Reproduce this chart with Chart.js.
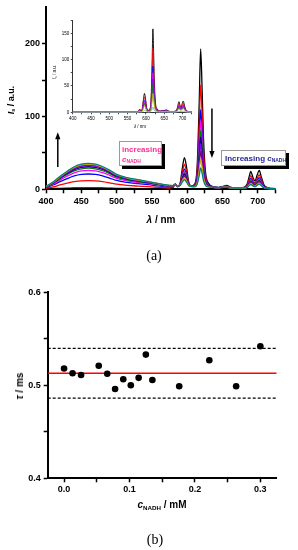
<!DOCTYPE html>
<html><head><meta charset="utf-8">
<script src="https://cdn.jsdelivr.net/npm/chart.js@4.4.0/dist/chart.umd.min.js"></script>
<style>
html,body{margin:0;padding:0;background:#fff;width:298px;height:550px;overflow:hidden;}
body{position:relative;font-family:"Liberation Sans",Arial,sans-serif;}
canvas{position:absolute;}
.t{position:absolute;white-space:nowrap;transform:translate(-50%,-50%);font-weight:bold;color:#000;line-height:1;}
.rot{transform:translate(-50%,-50%) rotate(-90deg);}
.serif{font-family:"Liberation Serif","Times New Roman",serif;font-weight:normal;}
sub{font-size:62%;vertical-align:-0.3em;line-height:0;}
.box{position:absolute;background:#fff;border:1px solid #999;box-shadow:3px 3px 0 #000;box-sizing:border-box;font-weight:bold;line-height:1;}
.box div{position:absolute;white-space:nowrap;}
</style>
</head><body>
<canvas id="cA" width="298" height="215" style="left:0;top:0"></canvas>
<canvas id="cI" width="160" height="125" style="left:40px;top:10px"></canvas>
<canvas id="cB" width="298" height="220" style="left:0;top:280px"></canvas>

<div class="t rot" style="left:11px;top:100px;font-size:9px"><i>I</i><sub>s</sub> / a.u.</div>
<div class="t" style="left:161px;top:220px;font-size:10px"><i>λ</i> / nm</div>
<div class="t serif" style="left:154px;top:256px;font-size:14px">(a)</div>
<div class="t rot" style="left:55px;top:72px;font-size:4.5px;font-weight:normal"><i>I</i><sub>s</sub> / a.u.</div>
<div class="t" style="left:140px;top:127px;font-size:4.5px;font-weight:normal"><i>λ</i> / nm</div>

<div class="box" style="left:119px;top:141px;width:43px;height:25px;">
  <div style="color:#ff2d96;font-size:8px;left:2px;top:4px">increasing</div>
  <div style="color:#ff2d96;font-size:8px;left:2px;top:14px"><i>c</i><sub>NADH</sub></div>
</div>
<div class="box" style="left:221px;top:150px;width:65px;height:16px;">
  <div style="color:#28289a;font-size:8px;left:3px;top:4px">Increasing <i>c</i><sub>NADH</sub></div>
</div>

<div class="t rot" style="left:20px;top:386px;font-size:10px"><i>τ</i> / ms</div>
<div class="t" style="left:162px;top:505px;font-size:10px"><i>c</i><sub>NADH</sub> / mM</div>
<div class="t serif" style="left:155px;top:540px;font-size:14px">(b)</div>

<script>
// ---------- (a) main spectra ----------
const wavelengths = [400,410,420,430,440,450,460,470,480,490,500,515,530,545,560,575,
  580,583,586,590,593,596,599,602,606,610,614,617,619,621,623,626,630,637,645,652,656,661,670,680,685,688,690,693,696,699,702,705,709,715,725];
const S1 = [1,1.2,1.4,1.6,1.8,1.9,2,1.9,1.8,1.6,1.4,1.2,1,0.9,0.8,0.8,
  2.5,7.5,3.5,8.5,28.5,43.5,30.5,10.5,4.5,6.5,30.5,120,193,140,70.5,22.5,8.5,3.5,2.5,4.5,5.5,3,1.5,2.5,7.5,18.5,24.5,16.5,11.5,19.5,26,16.5,5.5,2,1];
const S2 = [1.3,3.4,6,8.4,10.4,11.6,12,11.6,10.6,8.9,7,5.4,4.4,3.6,2.6,1.8,
  3.1,6.8,3.6,7.4,22.8,34.2,24.2,8.7,4.1,5.2,23,89.6,143.6,104.4,52.5,17,6.6,2.9,2.1,3.7,4.4,2.4,1.3,1.9,5.8,14.3,18.9,12.7,8.9,15,20,12.7,4.1,1.4,0.6];
const S3 = [2.3,5.9,10.5,14.7,18.3,20.4,21,20.4,18.5,15.5,12.2,9.5,7.8,6.3,4.6,3.2,
  3.9,6.7,4.1,6.9,18.9,27.7,19.9,7.7,4.1,4.9,18.3,68.7,109.6,79.9,40.5,13.6,5.8,2.9,2.3,3.5,3.8,2.3,1.4,1.8,4.8,11.4,15,10.2,7.2,12,15.9,10.2,3.4,1.3,0.7];
const S4 = [2.9,7.3,13,18.2,22.6,25.2,26,25.2,22.9,19.2,15.1,11.7,9.6,7.8,5.7,3.9,
  4.4,6.7,4.5,6.8,17.2,24.7,17.9,7.3,4.2,4.7,16.2,59.4,94.4,69,35.2,12.2,5.4,2.9,2.3,3.4,3.6,2.3,1.5,1.8,4.4,10.2,13.3,9.1,6.5,10.7,14.1,9.1,3.1,1.3,0.8];
const S5 = [3.2,8.1,14.5,20.3,25.2,28.1,29,28.1,25.5,21.5,16.8,13.1,10.7,8.7,6.4,4.4,
  4.7,6.7,4.6,6.6,15.8,22.4,16.4,6.9,4.1,4.5,14.3,51.2,81.1,59.4,30.4,10.7,5,2.9,2.4,3.3,3.5,2.4,1.7,1.8,4.1,9.2,11.9,8.3,6,9.6,12.6,8.3,2.9,1.3,0.8];
const S6 = [3.4,8.7,15.5,21.7,27,30.1,31,30.1,27.3,22.9,18,14,11.5,9.3,6.8,4.7,
  4.8,6.6,4.7,6.5,14.9,20.9,15.4,6.7,4.2,4.4,13,45.4,71.7,52.6,27.1,9.8,4.8,2.9,2.4,3.3,3.3,2.3,1.6,1.7,3.8,8.5,11,7.6,5.5,8.9,11.6,7.6,2.7,1.2,0.8];
const S7 = [3.6,9.1,16.3,22.8,28.3,31.5,32.5,31.5,28.6,24.1,18.9,14.6,12,9.8,7.2,4.9,
  5,6.6,4.7,6.3,13.9,19.2,14.3,6.4,4.1,4.2,11.6,39.5,62.1,45.7,23.7,8.8,4.5,2.7,2.4,3.1,3.2,2.3,1.7,1.8,3.7,7.8,10.1,7.1,5.2,8.2,10.7,7.1,2.6,1.3,0.9];
const S8 = [3.7,9.4,16.8,23.5,29.1,32.5,33.5,32.5,29.5,24.8,19.4,15.1,12.4,10.1,7.4,5,
  5.1,6.4,4.7,6.1,12.9,17.6,13.2,6.1,4.1,3.9,10.1,33.5,52.5,38.7,20.2,7.7,4.1,2.7,2.4,3.1,3,2.2,1.6,1.7,3.4,7.1,9.2,6.4,4.7,7.5,9.7,6.4,2.4,1.2,0.9];
const S9 = [3.8,9.7,17.3,24.2,30,33.5,34.5,33.5,30.4,25.5,20,15.5,12.8,10.4,7.6,5.2,
  5.1,6.1,4.7,5.8,11.6,15.6,11.8,5.7,4,3.6,8.4,26.4,41,30.4,16.1,6.5,3.7,2.6,2.3,2.9,2.9,2.1,1.7,1.6,3,6.2,8,5.6,4.2,6.5,8.4,5.6,2.2,1.1,0.8];
const S10 = [3.9,10,17.8,24.9,31,34.5,35.6,34.5,31.3,26.3,20.6,16,13.2,10.7,7.8,5.3,
  5.1,5.9,4.6,5.4,10,13.1,9.7,5.1,3.7,3.3,6.7,19.3,29.5,22.1,11.9,5.2,3.2,2.5,2.3,2.7,2.6,2,1.6,1.6,2.7,5.2,6.6,4.8,3.6,5.5,7,4.8,1.9,1,0.8];
const mainSeries = [S1,S2,S3,S4,S5,S6,S7,S8,S9,S10];
const mainColors = ['#000000','#ff0000','#0000ff','#ff00ff','#008000','#000080','#8000ff','#800080','#c8b400','#008080'];
const mainXTicks = [400,425,450,475,500,525,550,575,600,625,650,675,700,725];
const mainYTicks = [0,50,100,150,200];
const arrowMarks = [{x:416.7, from:30.5, to:78.5},{x:635, from:111, to:43}];

// ---------- (a) inset ----------
const insetWavelengths = [400,450,500,550,575,580,583,586,590,593,596,599,602,606,610,614,617,619,621,623,626,630,640,652,656,661,670,680,685,688,690,693,696,699,702,705,709,715,725];
const I1 = [0.5,0.5,0.5,0.5,0.9,2.1,6.2,3,7.1,23.5,35.8,25.1,8.7,3.8,5.4,25.1,98.9,158.3,115.3,57.9,18.5,7.1,2.6,3.8,4.6,2.6,1.3,2.1,6.2,15.3,20.2,13.6,9.5,16.1,21.4,13.6,4.6,1.7,0.9];
const I2 = [0.5,0.5,0.5,0.5,0.8,1.8,5.1,2.5,5.7,18.9,28.7,20.2,7.1,3.1,4.2,19.2,75.3,120.8,87.7,44.1,14.2,5.5,2.1,3.1,3.8,2.1,1.2,1.8,5.1,12.3,16.2,11,7.7,13,17.2,11,3.8,1.5,0.8];
const I3 = [0.5,0.5,0.5,0.5,0.7,1.5,4.1,2,4.6,14.7,22.4,15.8,5.6,2.5,3.2,14,54.6,87.6,63.6,32.1,10.4,4.1,1.8,2.5,3,1.8,1,1.5,4.1,9.7,12.7,8.6,6.1,10.2,13.5,8.6,3,1.3,0.8];
const I4 = [0.5,0.5,0.5,0.5,0.7,1.4,3.7,1.9,4.1,13.1,19.9,14,5,2.3,2.8,12.1,46.7,74.9,54.5,27.5,9,3.6,1.6,2.3,2.8,1.6,1,1.4,3.7,8.6,11.3,7.7,5.5,9.1,12,7.7,2.8,1.2,0.7];
const I5 = [0.5,0.5,0.5,0.5,0.7,1.3,3.3,1.7,3.6,11.5,17.4,12.3,4.4,2.1,2.5,10.3,39.9,63.8,46.4,23.5,7.7,3.1,1.5,2.1,2.5,1.5,0.9,1.3,3.3,7.6,9.9,6.8,4.8,8,10.5,6.8,2.5,1.1,0.7];
const I6 = [0.5,0.5,0.5,0.5,0.7,1.2,2.9,1.5,3.3,10.1,15.3,10.8,3.9,1.9,2.1,8.6,33,52.7,38.4,19.4,6.4,2.7,1.4,1.9,2.2,1.4,0.8,1.2,2.9,6.7,8.8,6,4.3,7,9.3,6,2.2,1,0.7];
const I7 = [0.5,0.5,0.5,0.5,0.6,1,2.4,1.3,2.7,8.1,12.1,8.6,3.2,1.6,1.6,5.9,22.1,35.3,25.8,13.1,4.5,1.9,1.2,1.6,1.9,1.2,0.8,1,2.4,5.4,7,4.8,3.5,5.6,7.4,4.8,1.9,0.9,0.6];
const I8 = [0.3,0.3,0.3,0.3,0.3,0.4,0.8,0.5,0.9,2.5,3.6,2.6,1,0.5,0.6,2,6.5,10,7.5,3.8,1.3,0.6,0.4,0.5,0.6,0.4,0.3,0.4,0.8,1.6,2.1,1.5,1.1,1.7,2.2,1.5,0.6,0.4,0.3];
const insetSeries = [I1,I2,I3,I4,I5,I6,I7,I8];
const insetColors = ['#000000','#ff0000','#0000ff','#ff00ff','#8000ff','#008000','#c8b400','#88aadd'];
const insetXTicks = [400,425,450,475,500,525,550,575,600,625,650,675,700,725];
const insetYTicks = [0,25,50,75,100,125,150,175];

// ---------- (b) lifetimes ----------
const cNADH = [0.0,0.013,0.026,0.053,0.066,0.078,0.0905,0.102,0.114,0.125,0.135,0.176,0.222,0.263,0.300];
const tau   = [0.518,0.513,0.511,0.521,0.5125,0.496,0.5065,0.500,0.508,0.533,0.5057,0.499,0.527,0.499,0.542];
const tauMean = 0.5129;
const tauUpper = 0.5398;
const tauLower = 0.4863;
const bXRange = [-0.025, 0.325];
const bXTicks = [0,0.05,0.1,0.15,0.2,0.25,0.3];
const bYTicks = [0.4,0.45,0.5,0.55,0.6];

const FONT = '"Liberation Sans", Arial, sans-serif';

function setTicks(vals){ return s => { s.ticks = vals.map(v => ({value:v})); }; }

function axis(opts){
  return {
    type:'linear', min:opts.min, max:opts.max,
    afterBuildTicks: setTicks(opts.ticks),
    afterFit: opts.fit,
    grid:{drawOnChartArea:false, drawTicks:true, tickLength:opts.tl, tickColor:'#000', tickWidth:opts.tw},
    border:{display:true, color:opts.bc||'#000', width:opts.bw},
    ticks:{autoSkip:false, maxRotation:0, color:'#000', padding:opts.pad,
      font:{family:FONT, size:opts.fs, weight:opts.fw}, callback:opts.cb}
  };
}

const arrowPlugin = {
  id:'arrows',
  afterDatasetsDraw(chart){
    const {ctx, scales:{x, y}} = chart;
    arrowMarks.forEach(a => {
      const px = x.getPixelForValue(a.x), y0 = y.getPixelForValue(a.from), y1 = y.getPixelForValue(a.to);
      const dir = Math.sign(y1 - y0);
      ctx.save();
      ctx.strokeStyle = '#000'; ctx.fillStyle = '#000'; ctx.lineWidth = 1.5;
      ctx.beginPath(); ctx.moveTo(px, y0); ctx.lineTo(px, y1 - dir*5); ctx.stroke();
      ctx.beginPath(); ctx.moveTo(px, y1); ctx.lineTo(px-2.6, y1 - dir*7); ctx.lineTo(px+2.6, y1 - dir*7); ctx.closePath(); ctx.fill();
      ctx.restore();
    });
  }
};

// main chart
new Chart(document.getElementById('cA'), {
  type:'line',
  data:{datasets: mainSeries.map((s,i) => ({
    data: wavelengths.map((w,j) => ({x:w, y:s[j]})),
    borderColor: mainColors[i], borderWidth:1.3, pointRadius:0,
    cubicInterpolationMode:'monotone', fill:false, clip:4
  })).reverse()},
  options:{
    responsive:false, animation:false, events:[],
    layout:{padding:{top:6.8, right:22.5, left:0, bottom:0}},
    plugins:{legend:{display:false}, tooltip:{enabled:false}},
    scales:{
      x: axis({min:400, max:725, ticks:mainXTicks, fit:s=>{s.height=25.7;}, tl:4, tw:1.5, bw:2, pad:3, fs:9, fw:'bold',
        cb:v => (v % 50 === 0 && v <= 700 ? String(v) : '')}),
      y: axis({min:0, max:250, ticks:mainYTicks, fit:s=>{s.width=46;}, tl:4, tw:1.5, bw:2, pad:2, fs:9, fw:'bold',
        cb:v => (v % 100 === 0 ? String(v) : '')})
    }
  },
  plugins:[arrowPlugin]
});

// inset chart
new Chart(document.getElementById('cI'), {
  type:'line',
  data:{datasets: insetSeries.map((s,i) => ({
    data: insetWavelengths.map((w,j) => ({x:w, y:s[j]})),
    borderColor: insetColors[i], borderWidth:0.9, pointRadius:0,
    cubicInterpolationMode:'monotone', fill:false, clip:3
  })).reverse()},
  options:{
    responsive:false, animation:false, events:[],
    layout:{padding:{top:10.1, right:8.3, left:0, bottom:0}},
    plugins:{legend:{display:false}, tooltip:{enabled:false}},
    scales:{
      x: axis({min:400, max:725, ticks:insetXTicks, fit:s=>{s.height=22.7;}, tl:2, tw:0.7, bw:1, bc:'#333', pad:2, fs:4.5, fw:'normal',
        cb:v => (v % 50 === 0 && v <= 700 ? String(v) : '')}),
      y: axis({min:0, max:175, ticks:insetYTicks, fit:s=>{s.width=32.7;}, tl:2, tw:0.7, bw:1, bc:'#333', pad:1.5, fs:4.5, fw:'normal',
        cb:v => (v % 50 === 0 ? String(v) : '')})
    }
  }
});

// lifetime chart
new Chart(document.getElementById('cB'), {
  type:'scatter',
  data:{datasets:[
    {data: cNADH.map((c,i) => ({x:c, y:tau[i]})), pointRadius:3.3, pointBackgroundColor:'#000', pointBorderWidth:0, showLine:false},
    {data: bXRange.map(x => ({x, y:tauMean})), showLine:true, borderColor:'#ff0000', borderWidth:1.5, pointRadius:0},
    {data: bXRange.map(x => ({x, y:tauUpper})), showLine:true, borderColor:'#000', borderWidth:1.3, borderDash:[3,2], pointRadius:0},
    {data: bXRange.map(x => ({x, y:tauLower})), showLine:true, borderColor:'#000', borderWidth:1.3, borderDash:[3,2], pointRadius:0}
  ]},
  options:{
    responsive:false, animation:false, events:[],
    layout:{padding:{top:12.3, right:21.3, left:0, bottom:0}},
    plugins:{legend:{display:false}, tooltip:{enabled:false}},
    scales:{
      x: axis({min:bXRange[0], max:bXRange[1], ticks:bXTicks, fit:s=>{s.height=21.7;}, tl:4, tw:1.5, bw:2, pad:2, fs:9, fw:'bold',
        cb:v => (Math.round(v*100) % 10 === 0 ? v.toFixed(1) : '')}),
      y: axis({min:0.4, max:0.6, ticks:bYTicks, fit:s=>{s.width=47.7;}, tl:4, tw:1.5, bw:2, pad:3, fs:9, fw:'bold',
        cb:v => (Math.round(v*100) % 10 === 0 ? v.toFixed(1) : '')})
    }
  }
});
</script>
</body></html>
